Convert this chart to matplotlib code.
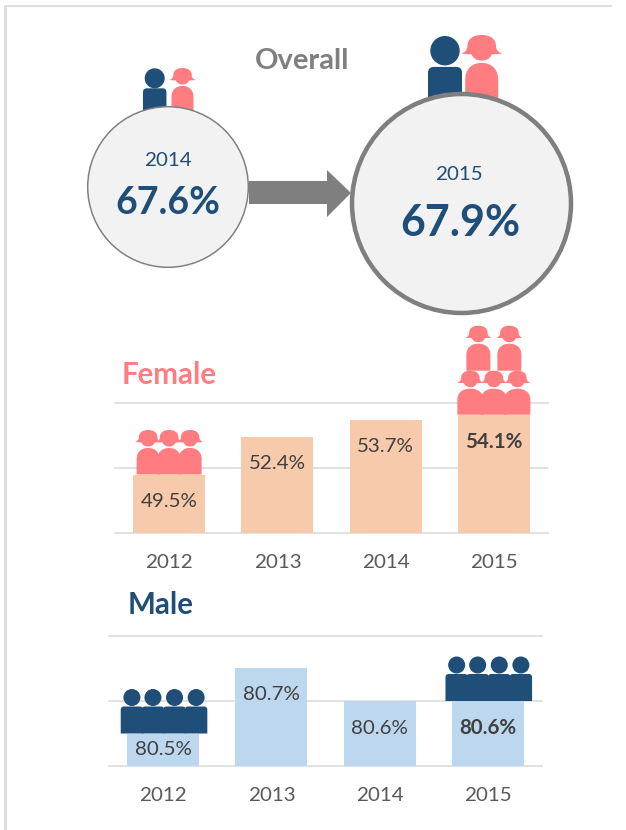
import matplotlib
matplotlib.use('Agg')
import matplotlib.pyplot as plt
from matplotlib.patches import Circle, PathPatch, Polygon, Rectangle
from matplotlib.path import Path

plt.rcParams['font.family'] = ['Lato', 'DejaVu Sans']

W, H = 626, 830
NAVY = '#1f4e79'
PINK = '#ff7c80'
GREY = '#7f7f7f'

years = ['2012', '2013', '2014', '2015']
female = [49.5, 52.4, 53.7, 54.1]
male = [80.5, 80.7, 80.6, 80.6]
female_ticks = [45, 50, 55]
male_ticks = [80.4, 80.6, 80.8]
overall_years = ['2014', '2015']
overall = [67.6, 67.9]

fig = plt.figure(figsize=(W / 100, H / 100), dpi=100, facecolor='white')


def px_axes(left, top, right, bottom):
    return fig.add_axes([left / W, 1 - bottom / H, (right - left) / W, (bottom - top) / H])


def pt(px):
    return px * 0.72


# overlay in pixel coordinates for the shapes and titles
over = fig.add_axes([0, 0, 1, 1], zorder=5)
over.set_xlim(0, W)
over.set_ylim(H, 0)
over.axis('off')


def woman(cx, top, base, s, w, z=3):
    hat = 13.5 * s
    brim = top + 12 * s
    dome = 9.2 * s
    hv = [(cx - hat, brim),
          (cx - dome, brim - 1 * s), (cx - dome, top + 7 * s),
          (cx - dome, top + 2.5 * s), (cx - dome * 0.6, top), (cx, top),
          (cx + dome * 0.6, top), (cx + dome, top + 2.5 * s), (cx + dome, top + 7 * s),
          (cx + dome, brim - 1 * s), (cx + hat, brim),
          (cx + 6.5 * s, brim + 0.5 * s),
          (cx + 5 * s, brim + 4.5 * s), (cx, brim + 4.5 * s),
          (cx - 5 * s, brim + 4.5 * s), (cx - 6.5 * s, brim + 0.5 * s),
          (cx - hat, brim)]
    hc = [Path.MOVETO, Path.CURVE3, Path.CURVE3,
          Path.CURVE4, Path.CURVE4, Path.CURVE4,
          Path.CURVE4, Path.CURVE4, Path.CURVE4,
          Path.CURVE3, Path.CURVE3, Path.LINETO,
          Path.CURVE3, Path.CURVE3, Path.CURVE3, Path.CURVE3, Path.CLOSEPOLY]
    over.add_patch(PathPatch(Path(hv, hc), fc=PINK, ec='none', zorder=z))
    ytop = top + 18 * s
    b = w / 2
    bv = [(cx - b, base), (cx - b, ytop + 11 * s),
          (cx - b, ytop + 4 * s), (cx - b * 0.6, ytop), (cx, ytop),
          (cx + b * 0.6, ytop), (cx + b, ytop + 4 * s), (cx + b, ytop + 11 * s),
          (cx + b, base), (cx - b, base)]
    bc = [Path.MOVETO, Path.LINETO, Path.CURVE4, Path.CURVE4, Path.CURVE4,
          Path.CURVE4, Path.CURVE4, Path.CURVE4, Path.LINETO, Path.CLOSEPOLY]
    over.add_patch(PathPatch(Path(bv, bc), fc=PINK, ec='none', zorder=z))


def man(cx, top, base, r, w, gap, z=3):
    over.add_patch(Circle((cx, top + r), r, fc=NAVY, ec='none', zorder=z))
    ytop = top + 2 * r + gap
    b = w / 2
    c = r * 0.4
    bv = [(cx - b, base), (cx - b, ytop + c), (cx - b, ytop), (cx - b + c, ytop),
          (cx + b - c, ytop), (cx + b, ytop), (cx + b, ytop + c), (cx + b, base), (cx - b, base)]
    bc = [Path.MOVETO, Path.LINETO, Path.CURVE3, Path.CURVE3, Path.LINETO,
          Path.CURVE3, Path.CURVE3, Path.LINETO, Path.CLOSEPOLY]
    over.add_patch(PathPatch(Path(bv, bc), fc=NAVY, ec='none', zorder=z))


def bar_chart(ax, values, ticks, bar_color, label_offsets, bold_last=True):
    pos = range(len(years))
    ax.bar(pos, values, width=0.665, color=bar_color, zorder=2)
    ax.set_xlim(-0.5, 3.5)
    ax.set_ylim(ticks[0], ticks[-1])
    ax.set_yticks(ticks)
    ax.set_xticks(list(pos), years)
    ax.tick_params(axis='y', left=False, labelleft=False)
    ax.tick_params(axis='x', length=0, pad=15, labelsize=pt(20.5), labelcolor='#595959')
    ax.set_axisbelow(True)
    ax.grid(axis='y', color='#d9d9d9', lw=1.1)
    for line in ax.get_ygridlines():
        line.set_clip_on(False)
    for s in ax.spines.values():
        s.set_visible(False)
    ax.patch.set_alpha(0)
    for i, v in enumerate(values):
        last = bold_last and i == len(values) - 1
        ax.annotate(f'{v:.1f}%', (i, v), xytext=(0, -pt(label_offsets[i])), textcoords='offset points',
                    ha='center', va='center', fontsize=pt(20.5), color='#404040', zorder=6,
                    fontweight='bold' if last else 'normal')


def top_of_bar(ax, i, v):
    # pixel position of a bar top, in overlay coordinates
    return over.transData.inverted().transform(ax.transData.transform((i, v)))


ax_f = px_axes(115, 403, 548, 533)
bar_chart(ax_f, female, female_ticks, '#f7caac', [27, 27, 27, 27])

ax_m = px_axes(109, 636, 542, 766)
bar_chart(ax_m, male, male_ticks, '#bdd7ee', [16, 26, 27, 27])

# women on the female bars
x, y = top_of_bar(ax_f, 0, female[0])
for dx in (-21, 0, 21):
    woman(x + dx, y - 44.5, y, 1.0, 23)
x, y = top_of_bar(ax_f, 3, female[3])
for dx in (-15.5, 15.5):
    woman(x + dx, y - 89, y - 44, 1.0, 24)
for dx in (-23.5, 0, 23.5):
    woman(x + dx, y - 44, y, 1.0, 26)

# men on the male bars
for i in (0, 3):
    x, y = top_of_bar(ax_m, i, male[i])
    for dx in (-31.4, -10.4, 11.2, 32.8):
        man(x + dx + 0.2, y - 44.5, y, 8.5, 22.4, 0.5)

# overall circles
over.add_patch(Circle((168, 187), 80.3, fc='#f2f2f2', ec=GREY, lw=pt(1.5), zorder=4))
over.add_patch(Circle((461.5, 203.5), 109.5, fc='#f2f2f2', ec=GREY, lw=pt(4.5), zorder=4))
man(154.7, 68.3, 112, 10, 23.5, 0)
woman(182.5, 68, 112, 1.0, 22)
man(445, 36, 100, 14.7, 34, 1.5)
woman(481.7, 35, 100, 1.55, 33)

# arrow between the circles
over.add_patch(Polygon([(249, 181), (327, 181), (327, 170), (351, 193), (327, 217), (327, 204), (249, 204)],
                       fc=GREY, ec='none', zorder=3))

over.text(168, 161, overall_years[0], ha='center', va='center', fontsize=pt(20.5), color=NAVY, zorder=6)
over.text(168, 202.5, f'{overall[0]}%', ha='center', va='center', fontsize=pt(37.5), fontweight='bold', color=NAVY, zorder=6)
over.text(459, 175, overall_years[1], ha='center', va='center', fontsize=pt(20.5), color=NAVY, zorder=6)
over.text(460, 223, f'{overall[1]}%', ha='center', va='center', fontsize=pt(43), fontweight='bold', color=NAVY, zorder=6)

over.text(302, 61, 'Overall', ha='center', va='center', fontsize=pt(29), fontweight='bold', color=GREY)
over.text(122, 375, 'Female', ha='left', va='center', fontsize=pt(29.5), fontweight='bold', color=PINK)
over.text(128, 605, 'Male', ha='left', va='center', fontsize=pt(29.5), fontweight='bold', color=NAVY)

# thin frame along the top and left edge
over.add_patch(Rectangle((4, 5), 608, 2.5, fc='#dedede', ec='none', zorder=1))
over.add_patch(Rectangle((4, 5), 2.5, 825, fc='#dedede', ec='none', zorder=1))

fig.savefig('out.png', dpi=100)
